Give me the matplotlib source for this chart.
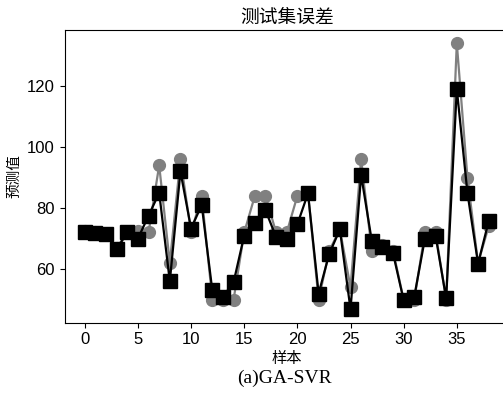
import numpy as np
import matplotlib.pyplot as plt

plt.rcParams['font.family'] = ['Liberation Sans', 'Noto Sans CJK SC']

# 样本序号
samples = list(range(39))
# 真实值 (灰色圆点)
actual = [72.5, 72, 71.5, 67, 72, 72.5, 72, 94, 62, 96,
          72, 84, 50, 50, 50, 72, 84, 84, 72, 72,
          84, 85, 50, 66, 73, 54, 96, 66, 68, 66,
          50, 50, 72, 72, 50, 134, 90, 62, 74]
# 预测值 (黑色方块)
pred = [72.3, 71.8, 71.5, 66.5, 72, 70, 77.5, 85, 56, 92,
        73.3, 81, 53, 51, 55.7, 71, 75, 79.3, 70.5, 70,
        74.7, 84.8, 52, 65, 73, 46.8, 90.8, 69.3, 67.3, 65.2,
        49.8, 51, 70, 71, 50.4, 119, 85, 61.8, 75.7]

fig = plt.figure(figsize=(5.03, 4.03), dpi=100)
ax = fig.add_axes([0.1284, 0.1993, 0.8833, 0.7263])

ax.plot(samples, actual, color='#808080', marker='o', markersize=8.5, linewidth=1.6)
ax.plot(samples, pred, color='black', marker='s', markersize=10, linewidth=1.6)

ax.set_title('测试集误差', fontsize=13.5, family=['Noto Sans CJK SC'], pad=5)
ax.set_xlabel('样本', fontsize=11, family=['Noto Sans CJK SC'], labelpad=2)
ax.set_ylabel('预测值', fontsize=10.5, family=['Noto Sans CJK SC'])
ax.set_xticks([0, 5, 10, 15, 20, 25, 30, 35])
ax.set_yticks([60, 80, 100, 120])
ax.tick_params(labelsize=12)

fig.text(0.566, 0.06, '(a)GA-SVR', fontsize=14, family='Liberation Serif',
         ha='center', va='center')

plt.savefig('out.png', dpi=100)
